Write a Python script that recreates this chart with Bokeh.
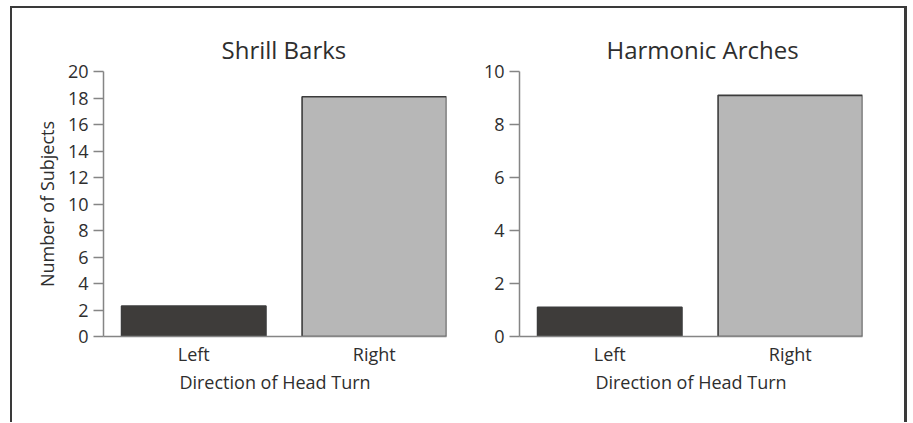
from bokeh.plotting import figure
from bokeh.layouts import row
from bokeh.models import Range1d, FixedTicker, Title, ColumnDataSource
from bokeh.embed import file_html
from bokeh.resources import INLINE

categories = ["Left", "Right"]
shrill_counts = [2.3, 18.1]
harmonic_counts = [1.1, 9.1]
shrill_ticks = [0, 2, 4, 6, 8, 10, 12, 14, 16, 18, 20]
harmonic_ticks = [0, 2, 4, 6, 8, 10]
bar_colors = ["#3e3c3a", "#b7b7b7"]
panel_titles = ["Shrill Barks", "Harmonic Arches"]
x_title = "Direction of Head Turn"
y_title = "Number of Subjects"

FONT = "Open Sans"
TEXT = "#2e2e2e"
AXIS = "#858585"


def make(title, counts, ticks, ylabel, width, left, right, title_offset):
    pos = [i + 0.5 for i in range(len(categories))]
    src = ColumnDataSource(dict(x=pos, top=counts, color=bar_colors))
    p = figure(width=width, height=414,
               x_range=Range1d(0, len(categories) - 0.1),
               y_range=Range1d(ticks[0], ticks[-1]),
               output_backend="svg", toolbar_location=None,
               min_border_left=left, min_border_right=right,
               min_border_top=63, min_border_bottom=86)
    p.vbar(x="x", top="top", bottom=0, width=0.8, fill_color="color",
           line_color="#3c3c3c", line_width=1.6, source=src)
    p.outline_line_color = None
    p.grid.visible = False

    xa = p.xaxis[0]
    xa.ticker = FixedTicker(ticks=pos)
    xa.major_label_overrides = {x: c for x, c in zip(pos, categories)}
    xa.major_tick_out = 0
    xa.major_tick_in = 0
    xa.minor_tick_out = 0
    xa.minor_tick_in = 0
    xa.axis_line_color = AXIS
    xa.axis_line_width = 1.5
    xa.major_label_text_font = FONT
    xa.major_label_text_font_size = "18px"
    xa.major_label_text_color = TEXT
    xa.major_label_standoff = 5
    xa.axis_label = x_title
    xa.axis_label_text_font = FONT
    xa.axis_label_text_font_size = "18px"
    xa.axis_label_text_font_style = "normal"
    xa.axis_label_text_color = TEXT
    xa.axis_label_standoff = 1

    ya = p.yaxis[0]
    ya.ticker = FixedTicker(ticks=ticks)
    ya.major_tick_out = 10
    ya.major_tick_in = 0
    ya.minor_tick_out = 0
    ya.minor_tick_in = 0
    ya.major_tick_line_color = AXIS
    ya.major_tick_line_width = 1.5
    ya.axis_line_color = AXIS
    ya.axis_line_width = 1.5
    ya.major_label_text_font = FONT
    ya.major_label_text_font_size = "18px"
    ya.major_label_text_color = TEXT
    ya.major_label_standoff = 5
    if ylabel:
        ya.axis_label = ylabel
        ya.axis_label_text_font = FONT
        ya.axis_label_text_font_size = "18px"
        ya.axis_label_text_font_style = "normal"
        ya.axis_label_text_color = TEXT
        ya.axis_label_standoff = 6

    p.add_layout(Title(text=title, align="left", offset=title_offset, standoff=12,
                       text_font=FONT, text_font_size="24px",
                       text_font_style="normal", text_color=TEXT), "above")
    return p


p1 = make(panel_titles[0], shrill_counts, shrill_ticks, y_title, 447, 91, 13, 118)
p2 = make(panel_titles[1], harmonic_counts, harmonic_ticks, None, 445, 60, 42, 87)

layout = row(p1, p2, styles={
    "border-top": "2px solid #3a3a3a",
    "border-left": "2px solid #3a3a3a",
    "border-right": "3px solid #3a3a3a",
    "margin-left": "10px",
    "margin-top": "6px",
})

open("out.html", "w").write(file_html(layout, INLINE))
